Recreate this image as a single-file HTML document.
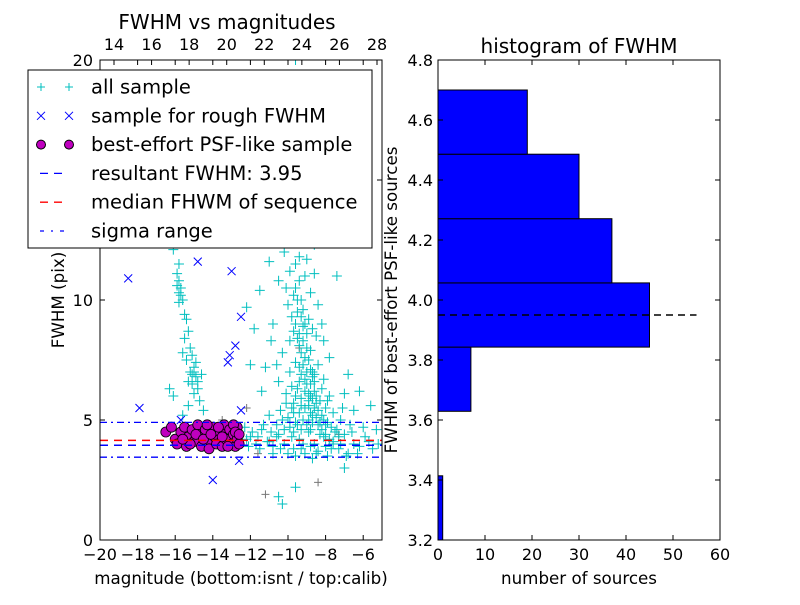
<!DOCTYPE html>
<html><head><meta charset="utf-8"><style>
body{margin:0;background:#fff}
svg text{font-family:"DejaVu Sans","Liberation Sans",sans-serif;fill:#000}
</style></head><body>
<svg id="c" width="800" height="600" xmlns="http://www.w3.org/2000/svg"></svg>
<script>
const allSample=[[-15.9,11.1],[-15.8,10.8],[-15.7,10.5],[-15.8,10.3],[-15.6,10.0],[-15.9,10.6],[-15.5,9.4],[-15.4,9.2],[-15.3,8.7],[-15.5,8.4],[-15.2,8.0],[-15.1,7.7],[-15.4,7.5],[-15.0,7.2],[-15.2,7.0],[-14.9,6.8],[-15.1,6.5],[-14.8,6.3],[-15.0,6.1],[-16.3,6.3],[-16.1,6.0],[-14.7,5.8],[-15.3,5.6],[-14.5,5.4],[-15.6,5.2],[-16.1,12.1],[-15.8,11.5],[-14.6,6.9],[-14.9,7.4],[-15.6,7.8],[-15.3,6.6],[-15.7,10.2],[-15.8,9.9],[-15.1,6.9],[-15.0,7.0],[-14.8,6.6],
[-9.6,20],[-10.8,17.5],[-9.8,16.8],[-9.2,16.5],[-8.9,14.8],[-9.5,14.0],[-10.0,15.2],[-9.3,13.5],[-11.6,13.8],[-9.7,12.8],[-9.0,12.5],[-10.2,12.0],[-9.4,11.8],[-8.6,12.3],[-9.9,11.2],[-9.1,11.0],[-10.5,10.8],[-9.6,10.5],[-8.8,10.3],[-9.3,10.0],[-10.0,9.8],[-9.5,9.5],[-8.9,9.2],[-10.8,9.0],[-9.2,8.9],[-9.7,8.7],[-8.5,8.5],[-9.9,8.3],[-9.4,8.1],[-8.8,7.9],[-10.3,7.8],[-9.1,7.6],[-9.6,7.4],[-8.4,7.3],[-11.2,7.2],[-9.9,7.0],[-9.3,6.9],[-8.7,6.8],[-10.5,6.6],[-9.0,6.5],[-9.5,6.3],[-8.2,6.3],[-10.1,6.1],[-8.8,6.0],[-9.3,5.9],[-7.8,6.0],[-11.4,6.2],[-9.7,5.7],[-8.5,5.7],[-9.1,5.5],[-8.0,5.5],[-10.4,5.4],[-9.4,5.3],[-8.7,5.2],[-7.6,5.3],[-10.0,5.1],[-8.9,5.0],[-9.6,4.9],[-8.3,4.9],[-7.2,5.0],[-11.0,5.2],[-12.0,7.3],[-11.8,8.8],[-12.2,9.7],[-11.5,10.4],[-10.6,12.7],[-11.0,11.6],[-8.4,9.8],[-7.8,7.6],[-6.8,6.9],[-7.0,6.1],[-6.2,6.2],[-5.6,5.6],[-6.5,5.4],[-8.1,8.3],[-8.6,11.1],[-9.8,13.0],[-10.4,14.3],[-9.0,15.5],[-11.3,12.8],[-7.4,11.0],
[-9.2,9.6],[-9.0,8.6],[-9.4,7.2],[-9.1,6.2],[-9.3,5.6],[-8.6,6.6],[-9.8,6.4],[-8.9,5.8],[-9.5,8.4],[-8.7,7.0],
[-9.6,11.5],[-9.4,10.8],[-9.7,10.2],[-9.5,10.0],[-9.3,9.3],[-9.6,9.0],[-9.1,9.0],[-9.4,8.6],[-9.2,8.3],[-9.0,8.0],[-9.3,7.8],[-8.9,7.5],[-9.2,7.3],[-8.8,7.1],[-9.0,7.0],[-8.6,6.9],[-9.1,6.7],[-8.8,6.5],[-8.6,6.2],[-8.9,6.1],[-8.5,6.0],[-8.7,5.9],[-8.3,5.8],[-8.9,5.6],[-8.6,5.5],[-8.4,5.4],[-8.8,5.3],[-8.2,5.2],[-8.5,5.1],[-8.1,5.0],[-8.7,4.9],[-8.4,4.8],[-7.9,4.9],[-8.2,4.6],[-7.7,4.7],[-8.0,4.4],[-7.5,4.5],[-7.8,4.2],[-7.3,4.3],[-7.6,4.0],[-9.4,6.6],[-9.6,6.0],[-9.8,5.5],[-10.1,5.7],[-9.9,4.9],[-10.3,5.0],[-9.7,5.3],[-9.2,5.0],[-9.0,4.8],[-8.8,4.6],[-9.3,4.6],[-9.7,4.5],[-10.2,4.6],[-10.6,4.3],[-11.0,4.1],[-11.6,4.3],[-12.2,4.2],[-11.3,4.8],[-10.4,3.8],[-10.8,3.6],[-9.3,3.8],[-8.5,3.6],[-8.0,3.9],[-7.2,4.0],[-6.6,4.5],[-6.3,3.6],[-5.7,4.1],[-5.2,4.0],[-6.7,4.8],[-7.1,5.5],[-7.9,5.8],[-8.1,6.7],[-10.6,7.3],[-10.9,8.3],[-9.8,9.3],[-8.2,9.0],[-10.1,10.5],[-9.0,11.7],[-8.7,8.8],
[-12.3,4.7],[-12.0,4.3],[-11.7,4.0],[-11.4,4.6],[-11.1,4.1],[-10.8,3.9],[-10.5,4.4],[-10.2,4.0],[-9.9,4.7],[-9.7,3.8],[-9.4,4.2],[-9.1,3.6],[-8.9,4.5],[-8.6,4.0],[-8.4,3.7],[-8.1,4.3],[-7.9,3.5],[-7.6,4.1],[-7.3,3.8],[-7.0,4.4],[-6.8,3.6],[-6.5,4.0],[-6.2,3.9],[-5.9,4.3],[-5.5,3.8],[-5.3,4.6],[-12.1,3.9],[-11.5,3.8],[-10.6,4.8],[-10.0,3.6],[-9.5,4.8],[-8.7,3.4],[-8.0,4.8],[-7.4,4.6],[-6.9,3.5],[-6.0,4.7],[-9.8,4.3],[-9.2,4.0],[-8.8,3.9],[-8.3,4.4],[-7.7,3.8],[-9.6,3.5],[-10.9,4.5],[-11.9,4.5],
[-10.5,1.8],[-10.3,1.5],[-9.6,2.2],[-7.0,3.0],[-14.7,4.1]];
const graySample=[[-11.2,1.9],[-8.4,2.4],[-9.4,8.0],[-12.2,5.5],[-7.3,4.4],[-13.5,5.0],[-11.6,3.6]];
const roughSample=[[-18.5,10.9],[-14.8,11.6],[-13.0,11.2],[-12.5,9.3],[-12.8,8.1],[-13.1,7.7],[-13.2,7.4],[-17.9,5.5],[-12.5,5.4],[-12.6,3.3],[-14.0,2.5],[-15.7,5.0]];
const psfSample=[[-16.5,4.5],[-16.0,4.2],[-15.7,4.5],[-15.9,4.0],[-15.5,4.7],[-15.3,4.3],[-15.4,3.9],[-15.1,4.6],[-15.0,4.1],[-14.8,4.8],[-14.7,4.4],[-14.6,3.9],[-14.4,4.6],[-14.3,4.1],[-14.2,3.8],[-14.0,4.7],[-13.9,4.3],[-13.8,4.0],[-13.6,4.5],[-13.5,3.9],[-13.4,4.8],[-13.3,4.2],[-13.1,4.6],[-13.0,4.0],[-12.9,4.4],[-12.8,3.9],[-12.7,4.7],[-12.7,4.2],[-15.2,4.0],[-14.9,4.4],[-14.5,4.2],[-14.1,4.4],[-13.7,4.7],[-13.2,3.9],[-12.9,4.8],[-15.6,4.2],[-16.2,4.7],[-14.3,4.8],[-13.5,4.3],[-12.8,4.5],[-12.6,4.0],[-12.6,4.4]];
const hlineVals=[3.95,4.15];
const sigmaVals=[3.45,4.9];
const binEdges=[3.2,3.414,3.629,3.843,4.057,4.271,4.486,4.7];
const binCounts=[1,0,7,45,37,30,19];
const resultFWHM=3.95;
const xTicksL=[-20,-18,-16,-14,-12,-10,-8,-6];
const xTicksTop=[14,16,18,20,22,24,26,28];
const yTicksL=[0,5,10,15,20];
const xTicksR=[0,10,20,30,40,50,60];
const yTicksR=[3.2,3.4,3.6,3.8,4.0,4.2,4.4,4.6,4.8];

const svg=document.getElementById('c');const NS='http://www.w3.org/2000/svg';
function el(t,a,p){const e=document.createElementNS(NS,t);for(const k in a)e.setAttribute(k,a[k]);(p||svg).appendChild(e);return e;}
function txt(s,x,y,fs,anchor,rot){const e=el('text',{x:x,y:y,'font-size':fs,'text-anchor':anchor||'middle'});if(rot)e.setAttribute('transform','rotate(-90 '+x+' '+y+')');e.textContent=s;return e;}
const L={x0:100,x1:382,y0:540,y1:60};
const lx=v=>L.x0+(v+20)/15*(L.x1-L.x0);
const ly=v=>L.y0-v/20*(L.y0-L.y1);
const tx=v=>114+(v-14)/14*(377-114);
const gL=el('g',{});


const clipL=el('clipPath',{id:'cl'});el('rect',{x:L.x0,y:L.y1,width:L.x1-L.x0,height:L.y0-L.y1},clipL);
const pg=el('g',{'clip-path':'url(#cl)'},gL);
function plus(x,y,c,s,p){el('path',{d:`M${x-s} ${y}H${x+s}M${x} ${y-s}V${y+s}`,stroke:c,'stroke-width':1,fill:'none'},p);}
function cross(x,y,c,s,p){el('path',{d:`M${x-s} ${y-s}L${x+s} ${y+s}M${x-s} ${y+s}L${x+s} ${y-s}`,stroke:c,'stroke-width':1,fill:'none'},p);}
graySample.forEach(d=>plus(lx(d[0]),ly(d[1]),'#777',4,pg));
allSample.forEach(d=>plus(lx(d[0]),ly(d[1]),'#00bfbf',5,pg));
roughSample.forEach(d=>cross(lx(d[0]),ly(d[1]),'#0000ff',4,pg));
psfSample.forEach(d=>{const c=el('circle',{cx:lx(d[0]),cy:ly(d[1]),r:5,fill:'#bf00bf',stroke:'#000','stroke-width':0.8},pg);});
el('line',{x1:L.x0,x2:L.x1,y1:ly(hlineVals[1]),y2:ly(hlineVals[1]),stroke:'#ff0000','stroke-width':1.5,'stroke-dasharray':'8,6'},pg);
el('line',{x1:L.x0,x2:L.x1,y1:ly(hlineVals[0]),y2:ly(hlineVals[0]),stroke:'#0000ff','stroke-width':1.5,'stroke-dasharray':'8,6'},pg);
sigmaVals.forEach(v=>el('line',{x1:L.x0,x2:L.x1,y1:ly(v),y2:ly(v),stroke:'#0000ff','stroke-width':1.3,'stroke-dasharray':'7,4,2,4'},pg));
el('rect',{x:L.x0,y:L.y1,width:L.x1-L.x0,height:L.y0-L.y1,fill:'none',stroke:'#000','stroke-width':1},gL);
xTicksL.forEach(v=>{const x=lx(v);el('path',{d:`M${x} ${L.y0}v-5M${x} ${L.y1}v5`,stroke:'#000'},gL);txt('\u2212'+Math.abs(v),x,L.y0+20,16);});
xTicksTop.forEach(v=>{const x=tx(v);el('path',{d:`M${x} ${L.y1}v5`,stroke:'#000'},gL);txt(String(v),x,L.y1-10,16);});
yTicksL.forEach(v=>{const y=ly(v);el('path',{d:`M${L.x0} ${y}h5M${L.x1} ${y}h-5`,stroke:'#000'},gL);txt(String(v),L.x0-7,y+6,16,'end');});
txt('FWHM vs magnitudes',227,29,20);
txt('magnitude (bottom:isnt / top:calib)',241,584,16.7);
txt('FWHM (pix)',64,300,16.7,'middle',true);
const lg=el('g',{});


el('rect',{x:28,y:70,width:344,height:178,fill:'#fff',stroke:'#000','stroke-width':1},lg);
const items=['all sample','sample for rough FWHM','best-effort PSF-like sample','resultant FWHM: 3.95','median FHWM of sequence','sigma range'];
items.forEach((s,i)=>{const y=87+i*28.8;
 if(i==0){plus(41,y,'#00bfbf',4,lg);plus(69,y,'#00bfbf',4,lg);}
 if(i==1){cross(41,y,'#0000ff',4,lg);cross(69,y,'#0000ff',4,lg);}
 if(i==2){el('circle',{cx:41,cy:y,r:4.5,fill:'#bf00bf',stroke:'#000'},lg);el('circle',{cx:69,cy:y,r:4.5,fill:'#bf00bf',stroke:'#000'},lg);}
 if(i==3)el('line',{x1:40,x2:68,y1:y,y2:y,stroke:'#0000ff','stroke-width':1.3,'stroke-dasharray':'8,6'},lg);
 if(i==4)el('line',{x1:40,x2:68,y1:y,y2:y,stroke:'#ff0000','stroke-width':1.3,'stroke-dasharray':'8,6'},lg);
 if(i==5)el('line',{x1:40,x2:68,y1:y,y2:y,stroke:'#0000ff','stroke-width':1.3,'stroke-dasharray':'4,7,2,7'},lg);
 const t=txt(s,91,y+6.5,19.5,'start',false);lg.appendChild(t);});
const R={x0:438,x1:720,y0:540,y1:60};
const rx=v=>R.x0+v/60*(R.x1-R.x0);
const ry=v=>R.y0-(v-3.2)/1.6*(R.y0-R.y1);
const gR=el('g',{});


binCounts.forEach((c,i)=>{if(!c)return;const y1=ry(binEdges[i+1]),y0=ry(binEdges[i]);const b=el('rect',{x:R.x0,y:y1,width:rx(c)-R.x0,height:y0-y1,fill:'#0000ff',stroke:'#000','stroke-width':1},gR);});
el('line',{x1:R.x0,x2:rx(55),y1:ry(resultFWHM),y2:ry(resultFWHM),stroke:'#000','stroke-width':1.5,'stroke-dasharray':'7,5'},gR);
el('rect',{x:R.x0,y:R.y1,width:R.x1-R.x0,height:R.y0-R.y1,fill:'none',stroke:'#000'},gR);
xTicksR.forEach(v=>{const x=rx(v);el('path',{d:`M${x} ${R.y0}v-5M${x} ${R.y1}v5`,stroke:'#000'},gR);txt(String(v),x,R.y0+20,16);});
yTicksR.forEach(v=>{const y=ry(v);el('path',{d:`M${R.x0} ${y}h5M${R.x1} ${y}h-5`,stroke:'#000'},gR);txt(v.toFixed(1),R.x0-5,y+6,16,'end');});
txt('histogram of FWHM',579,53,20);
txt('number of sources',579,584,16.7);
txt('FWHM of best-effort PSF-like sources',397,300,16.7,'middle',true);
</script>
</body></html>
